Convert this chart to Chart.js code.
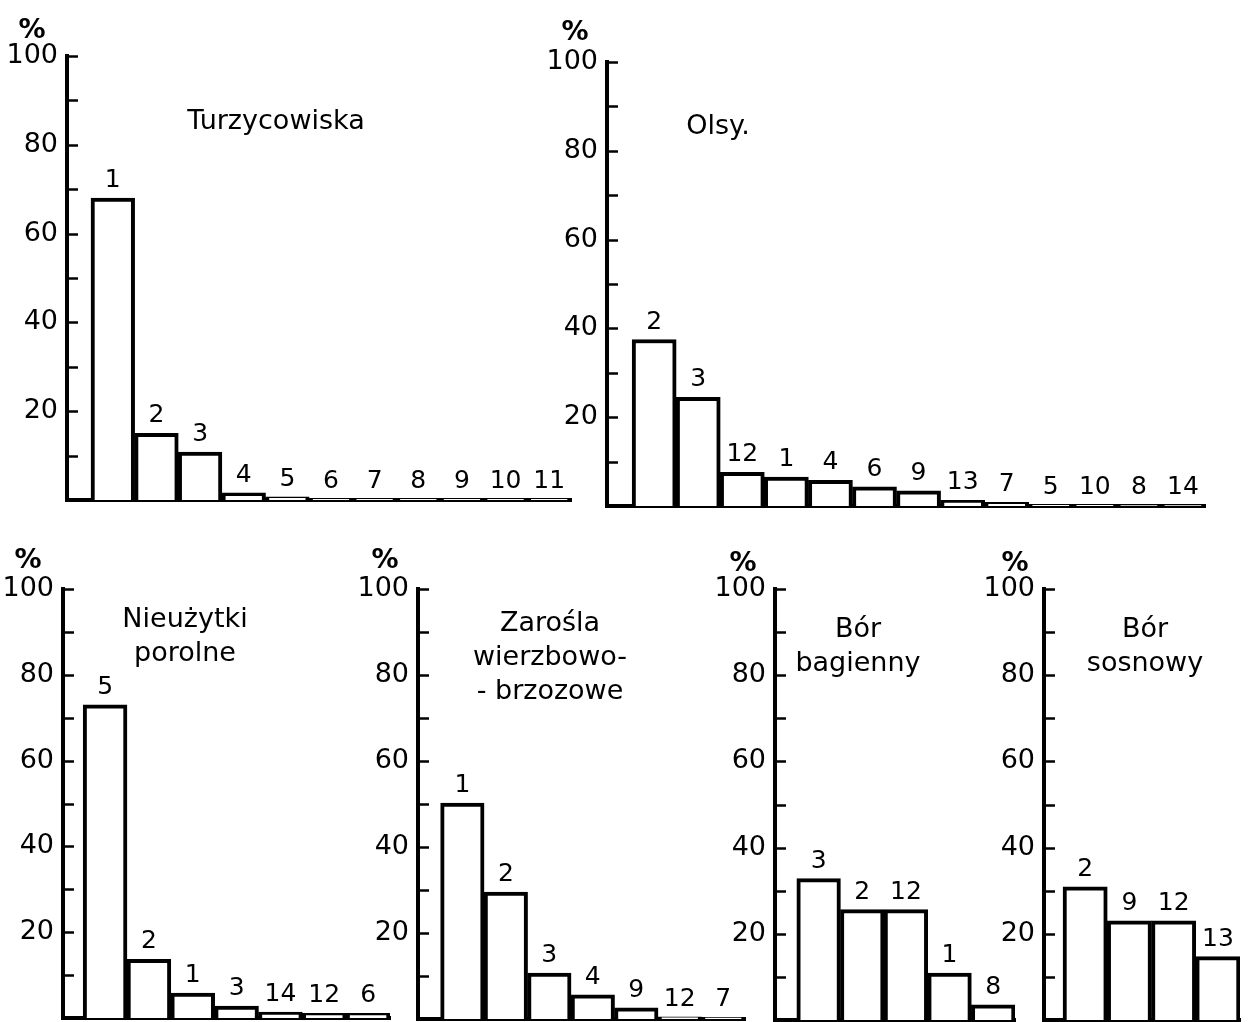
<!DOCTYPE html>
<html>
<head>
<meta charset="utf-8">
<script src="https://cdn.jsdelivr.net/npm/chart.js@4.4.0/dist/chart.umd.min.js"></script>
<style>
  body { margin: 0; background: #fff; width: 1254px; height: 1022px; position: relative; overflow: hidden; font-family: "DejaVu Sans", sans-serif; }
  canvas { position: absolute; }
  .txt { position: absolute; color: #000; font-size: 27px; line-height: 34px; text-align: center; white-space: nowrap; transform: translateX(-50%); }
</style>
</head>
<body>
<script>
// values (% share of each class)
var turzCats = ["1", "2", "3", "4", "5", "6", "7", "8", "9", "10", "11"];
var turzVals = [68, 15, 10.8, 1.6, 0.7, 0.3, 0.3, 0.3, 0.3, 0.3, 0.3];

var olsyCats = ["2", "3", "12", "1", "4", "6", "9", "13", "7", "5", "10", "8", "14"];
var olsyVals = [37.5, 24.5, 7.6, 6.5, 5.8, 4.3, 3.4, 1.3, 0.8, 0.3, 0.3, 0.2, 0.2];

var nieuCats = ["5", "2", "1", "3", "14", "12", "6"];
var nieuVals = [73, 13.7, 5.8, 2.8, 1.4, 1.1, 1.1];

var zaroCats = ["1", "2", "3", "4", "9", "12", "7"];
var zaroVals = [50.2, 29.5, 10.7, 5.6, 2.6, 0.5, 0.4];

var bagCats = ["3", "2", "12", "1", "8"];
var bagVals = [32.8, 25.6, 25.6, 10.9, 3.5];

var sosCats = ["2", "9", "12", "13"];
var sosVals = [30.9, 23.0, 23.0, 14.7];

var yTicks = [20, 40, 60, 80, 100];

// panel layout
var panels = [
  { cats: turzCats, vals: turzVals, axisX: 67, y100: 56, y0: 500, right: 571, gap: 0.55,
    pct: [32, 12], title: "Turzycowiska", tpos: [276, 103] },
  { cats: olsyCats, vals: olsyVals, axisX: 607, y100: 62, y0: 506, right: 1205, gap: 0.57,
    pct: [575, 14], title: "Olsy.", tpos: [718, 108] },
  { cats: nieuCats, vals: nieuVals, axisX: 63, y100: 589, y0: 1018, right: 390, gap: 0.46,
    pct: [28, 542], title: "Nieużytki<br>porolne", tpos: [185, 601] },
  { cats: zaroCats, vals: zaroVals, axisX: 418, y100: 589, y0: 1019, right: 745, gap: 0.52,
    pct: [385, 542], title: "Zarośla<br>wierzbowo-<br>- brzozowe", tpos: [550, 605] },
  { cats: bagCats, vals: bagVals, axisX: 775, y100: 589, y0: 1020, right: 1015, gap: 0.5,
    pct: [743, 545], title: "Bór<br>bagienny", tpos: [858, 611] },
  { cats: sosCats, vals: sosVals, axisX: 1044, y100: 589, y0: 1020, right: 1240, gap: 0.43,
    pct: [1015, 545], title: "Bór<br>sosnowy", tpos: [1145, 611] }
];

var LW = 4;
var FONT = "DejaVu Sans";

// inward ticks on the y axis + class numbers over bars
var decorPlugin = {
  id: "decor",
  afterDraw: function(chart) {
    var ctx = chart.ctx;
    var ys = chart.scales.y;
    var left = chart.chartArea.left;
    ctx.save();
    ctx.strokeStyle = "#000";
    ctx.lineWidth = 2.5;
    for (var v = 10; v <= 100; v += 10) {
      var py = Math.round(ys.getPixelForValue(v)) + 0.5;
      ctx.beginPath();
      ctx.moveTo(left, py);
      ctx.lineTo(left + 11, py);
      ctx.stroke();
    }
    var cats = chart.options.plugins.decor.cats;
    var meta = chart.getDatasetMeta(0);
    ctx.fillStyle = "#000";
    ctx.font = "25px '" + FONT + "'";
    ctx.textAlign = "center";
    ctx.textBaseline = "bottom";
    meta.data.forEach(function(bar, i) {
      ctx.fillText(cats[i], bar.x, bar.y - 5);
    });
    ctx.restore();
  }
};

panels.forEach(function(p) {
  var padTop = 40, padBot = 6, padRight = 6, yW = 70;
  var cv = document.createElement("canvas");
  var w = p.right - p.axisX + yW + padRight;
  var h = p.y0 - p.y100 + padTop + padBot;
  cv.width = w;
  cv.height = h;
  cv.style.left = (p.axisX - yW) + "px";
  cv.style.top = (p.y100 - padTop) + "px";
  cv.style.width = w + "px";
  cv.style.height = h + "px";
  document.body.appendChild(cv);

  new Chart(cv, {
    type: "bar",
    data: {
      datasets: [{
        data: p.vals.map(function(v, i) { return { x: i, y: v }; }),
        backgroundColor: "#fff",
        borderColor: "#000",
        borderWidth: LW,
        barPercentage: 1,
        categoryPercentage: 1
      }]
    },
    options: {
      responsive: false,
      animation: false,
      devicePixelRatio: 1,
      layout: { padding: { left: 0, top: padTop, right: padRight, bottom: padBot } },
      plugins: { legend: { display: false }, tooltip: { enabled: false }, decor: { cats: p.cats } },
      scales: {
        x: {
          type: "linear",
          offset: false,
          min: -0.5 - p.gap,
          max: p.vals.length - 0.5,
          afterBuildTicks: function(s) { s.ticks = p.vals.map(function(v, i) { return { value: i }; }); },
          grid: { display: false, offset: false },
          border: { display: true, color: "#000", width: LW },
          ticks: { display: false },
          afterFit: function(s) { s.height = 0; s.paddingLeft = 0; s.paddingRight = 0; }
        },
        y: {
          min: 0,
          max: 100,
          afterBuildTicks: function(s) { s.ticks = yTicks.map(function(v) { return { value: v }; }); },
          grid: { display: false, drawTicks: false },
          border: { display: true, color: "#000", width: LW },
          ticks: { color: "#000", padding: 9, font: { family: FONT, size: 27 } },
          afterFit: function(s) { s.width = yW; s.paddingTop = 0; s.paddingBottom = 0; }
        }
      }
    },
    plugins: [decorPlugin]
  });

  var pc = document.createElement("div");
  pc.className = "txt";
  pc.style.fontSize = "27px";
  pc.style.fontWeight = "bold";
  pc.style.left = p.pct[0] + "px";
  pc.style.top = p.pct[1] + "px";
  pc.textContent = "%";
  document.body.appendChild(pc);

  var t = document.createElement("div");
  t.className = "txt";
  t.style.left = p.tpos[0] + "px";
  t.style.top = p.tpos[1] + "px";
  t.innerHTML = p.title;
  document.body.appendChild(t);
});
</script>
</body>
</html>
